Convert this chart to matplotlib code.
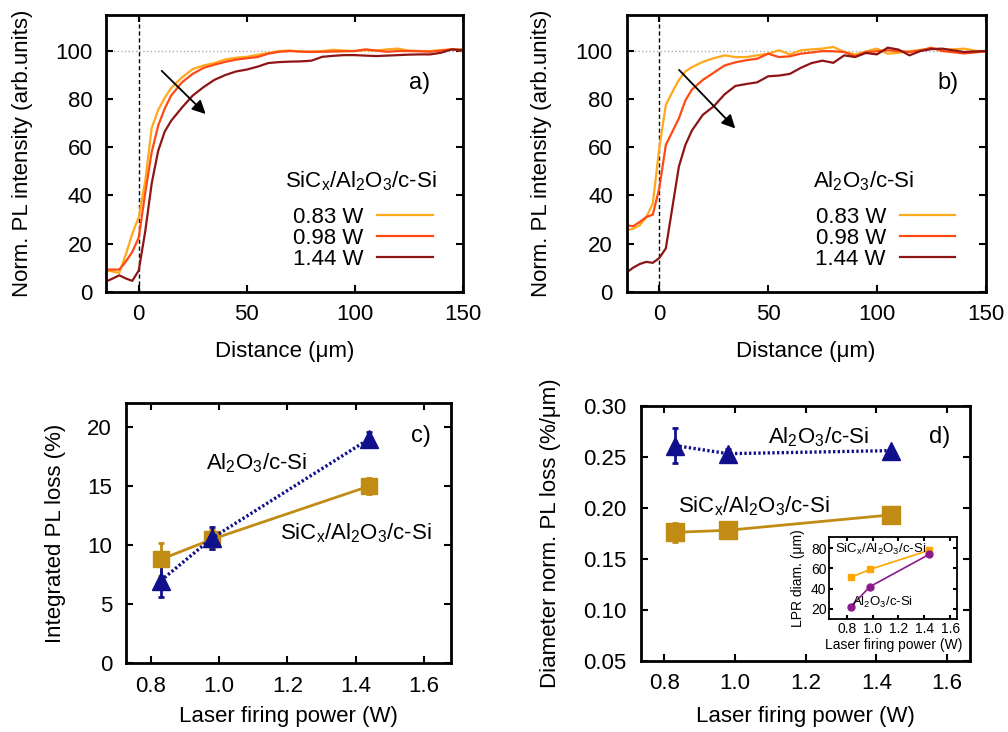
import matplotlib.pyplot as plt
import numpy as np

plt.rcParams['font.family'] = ['Liberation Sans', 'DejaVu Sans']
plt.rcParams['mathtext.default'] = 'regular'

# Datos perfiles PL (a, b)
distancia = [-15, -12, -9, -6, -3, 0, 3, 6, 9, 12, 15, 20, 25, 30, 35, 40, 45, 50, 55, 60,
             65, 70, 75, 80, 85, 90, 95, 100, 105, 110, 115, 120, 125, 130, 135, 140, 145, 150]
a_083 = [8.8, 8.4, 7.8, 15.4, 24, 31, 46, 68, 75.5, 80.5, 84.6, 89, 92.5, 94, 95, 96.5, 97.2, 97.6, 98.4, 99.2,
         100, 100.2, 99.7, 99.8, 100, 100.5, 100.2, 100, 100.4, 100.2, 100.7, 101, 100.2, 100, 100, 100.4, 100.7, 100.7]
a_098 = [9.2, 9.2, 9.2, 12.5, 16.5, 22.5, 41, 58, 69, 76, 81.5, 87, 90.5, 93, 94.3, 95.5, 96.4, 97, 97.5, 98.9,
         99.7, 100, 99.8, 99.6, 99.7, 99.8, 99.9, 100, 100.7, 100.2, 99.7, 100, 100, 99.9, 99.7, 100.2, 100.7, 100]
a_144 = [4.3, 5.5, 6.8, 5.5, 4.5, 8.8, 25, 45, 58.5, 66.5, 71, 76.5, 81.5, 85, 88, 90, 91.5, 92.3, 93.5, 95,
         95.4, 95.6, 95.7, 96, 97.6, 98, 98.3, 98.3, 98.1, 97.9, 98.1, 98.3, 98.5, 98.6, 98.6, 99.3, 100.7, 100.4]
b_083 = [25.5, 26.2, 27.6, 31, 36.6, 59.7, 77.6, 83, 88, 91.5, 93.3, 95.5, 97, 98.2, 97.5, 97.5, 98.2, 98.9, 100.3, 98.6,
         100.3, 100.7, 101, 101.7, 99.6, 98.6, 99.8, 101, 98.9, 99.3, 99.9, 100.5, 101, 100.6, 100.7, 101, 100.2, 99.6]
b_098 = [27.6, 27.2, 29, 31, 32, 43, 61, 66.5, 72, 79.5, 84, 88, 91, 94, 95.3, 96.2, 96.8, 98.9, 97.5, 97.8,
         98.9, 99.4, 100, 99.9, 99.6, 97.8, 99.6, 99.9, 100.3, 100, 99.6, 100.2, 101.4, 100, 99.5, 99, 99.4, 99.9]
b_144 = [8, 10, 11.5, 12.4, 12, 14, 18, 35, 52, 61, 67, 73.5, 77, 82, 85.5, 86.3, 87, 89.5, 89.8, 90.5,
         93, 95, 96, 95.1, 98.2, 97.5, 99.2, 98.6, 101.4, 100.6, 98.2, 100, 100.8, 101, 100.3, 99.6, 99.8, 100]
potencias = ['0.83 W', '0.98 W', '1.44 W']
colores_curvas = ['#ffa81c', '#ff4a14', '#8e1515']

# Datos c, d e inset
potencia = [0.83, 0.98, 1.44]
perdida_sic = [8.8, 10.5, 15.0]
err_perdida_sic = [1.4, 0.8, 0.7]
perdida_al = [7.0, 10.6, 19.0]
err_perdida_al = [1.4, 0.9, 0.6]
norm_al = [0.261, 0.253, 0.256]
err_norm_al = [0.017, 0.005, 0.0]
norm_sic = [0.176, 0.178, 0.193]
err_norm_sic = [0.009, 0.0, 0.0]
diam_sic = [51, 59, 78]
diam_al = [22, 42, 74]

fs = 16
c_sic = '#c08c14'
c_al = '#10108c'

fig = plt.figure(figsize=(10.08, 7.32), dpi=100)
ax_a = fig.add_axes([0.1055, 0.6015, 0.3535, 0.3781])
ax_b = fig.add_axes([0.6217, 0.6015, 0.3561, 0.3781])
ax_c = fig.add_axes([0.1250, 0.0938, 0.3224, 0.3552])
ax_d = fig.add_axes([0.6356, 0.0970, 0.3268, 0.3488])
ax_i = fig.add_axes([0.8227, 0.1544, 0.1270, 0.1120])


def estilo(ax, size=fs, lw=2.0):
    ax.tick_params(direction='in', top=True, right=True, labelsize=size, length=5, width=1.5)
    ax.tick_params(axis='x', pad=9)
    ax.tick_params(axis='y', pad=10)
    for s in ax.spines.values():
        s.set_linewidth(lw)


# Paneles a y b
for ax, datos, titulo, letra, flecha, xt, xl in [
        (ax_a, [a_083, a_098, a_144], 'SiC$_x$/Al$_2$O$_3$/c-Si', 'a)', ((9.7, 92.6), (31.9, 73)), 0.501, 0.88),
        (ax_b, [b_083, b_098, b_144], 'Al$_2$O$_3$/c-Si', 'b)', ((8.2, 93), (35.8, 67)), 0.518, 0.894)]:
    lineas = []
    for y, col, lab in zip(datos, colores_curvas, potencias):
        ln, = ax.plot(distancia, y, color=col, linewidth=1.6, label=lab)
        lineas.append(ln)
    ax.axhline(100, color='#aaaaaa', linestyle=':', linewidth=1.0, zorder=0)
    ax.axvline(0, color='black', linestyle='--', linewidth=1.0, dashes=(3, 2), zorder=0)
    ax.annotate('', xy=flecha[1], xytext=flecha[0],
                arrowprops=dict(arrowstyle='-|>', color='black', lw=1.3, mutation_scale=20))
    ax.text(xl, 0.755, letra, transform=ax.transAxes, fontsize=17, ha='center', va='center')
    ax.text(xt, 0.3975, titulo, transform=ax.transAxes, fontsize=fs, ha='left', va='center')
    ax.set_xlim(-15, 150)
    ax.set_ylim(0, 115)
    ax.set_xticks([0, 50, 100, 150])
    ax.set_yticks([0, 20, 40, 60, 80, 100])
    ax.set_xlabel('Distance (μm)', fontsize=fs)
    ax.set_ylabel('Norm. PL intensity (arb.units)', fontsize=fs)
    ax.legend(handles=lineas, loc='lower right', bbox_to_anchor=(0.916, 0.079),
              frameon=False, markerfirst=False, fontsize=fs,
              handlelength=2.5, handletextpad=0.63, labelspacing=0.0,
              borderaxespad=0, borderpad=0)
    estilo(ax)
    ax.yaxis.set_label_coords(-0.207, 0.5)
    ax.xaxis.set_label_coords(0.5, -0.178)

# Panel c
ax_c.errorbar(potencia, perdida_sic, yerr=err_perdida_sic, color=c_sic, marker='s', markersize=11,
              linewidth=2.0, elinewidth=2.0, capsize=2.5, capthick=2.0)
ax_c.errorbar(potencia, perdida_al, yerr=err_perdida_al, color=c_al, marker='^', markersize=13,
              linestyle=(0, (0.7, 0.7)), linewidth=2.4, elinewidth=2.0, capsize=2.5, capthick=2.0)
ax_c.text(1.11, 16.95, 'Al$_2$O$_3$/c-Si', fontsize=fs, ha='center', va='center')
ax_c.text(1.40, 11.0, 'SiC$_x$/Al$_2$O$_3$/c-Si', fontsize=fs, ha='center', va='center')
ax_c.text(1.59, 19.2, 'c)', fontsize=17, ha='center', va='center')
ax_c.set_xlim(0.728, 1.679)
ax_c.set_ylim(0, 22)
ax_c.set_xticks([0.8, 1.0, 1.2, 1.4, 1.6])
ax_c.set_yticks([0, 5, 10, 15, 20])
ax_c.xaxis.set_major_formatter(plt.FormatStrFormatter('%.1f'))
ax_c.set_xlabel('Laser firing power (W)', fontsize=fs)
ax_c.set_ylabel('Integrated PL loss (%)', fontsize=fs)
estilo(ax_c)
ax_c.yaxis.set_label_coords(-0.185, 0.5)
ax_c.xaxis.set_label_coords(0.5, -0.164)

# Panel d
ax_d.errorbar(potencia, norm_sic, yerr=err_norm_sic, color=c_sic, marker='s', markersize=13,
              linewidth=2.0, elinewidth=2.0, capsize=2.5, capthick=2.0)
ax_d.errorbar(potencia, norm_al, yerr=err_norm_al, color=c_al, marker='^', markersize=13,
              linestyle=(0, (0.7, 0.7)), linewidth=2.4, elinewidth=2.0, capsize=2.5, capthick=2.0)
ax_d.text(1.235, 0.269, 'Al$_2$O$_3$/c-Si', fontsize=fs, ha='center', va='center')
ax_d.text(1.053, 0.2014, 'SiC$_x$/Al$_2$O$_3$/c-Si', fontsize=fs, ha='center', va='center')
ax_d.text(1.58, 0.269, 'd)', fontsize=17, ha='center', va='center')
ax_d.set_xlim(0.733, 1.665)
ax_d.set_ylim(0.05, 0.30)
ax_d.set_xticks([0.8, 1.0, 1.2, 1.4, 1.6])
ax_d.set_yticks([0.05, 0.10, 0.15, 0.20, 0.25, 0.30])
ax_d.xaxis.set_major_formatter(plt.FormatStrFormatter('%.1f'))
ax_d.yaxis.set_major_formatter(plt.FormatStrFormatter('%.2f'))
ax_d.set_xlabel('Laser firing power (W)', fontsize=fs)
ax_d.set_ylabel('Diameter norm. PL loss (%/μm)', fontsize=fs)
estilo(ax_d)
ax_d.yaxis.set_label_coords(-0.242, 0.5)
ax_d.xaxis.set_label_coords(0.5, -0.176)

# Inset
ax_i.plot(potencia, diam_sic, color='#ffa500', marker='s', markersize=5, linewidth=1.2)
ax_i.plot(potencia, diam_al, color='#8c1a8c', marker='o', markersize=5, linewidth=1.2)
ax_i.text(0.71, 78.3, 'SiC$_x$/Al$_2$O$_3$/c-Si', fontsize=9.5, ha='left', va='center')
ax_i.text(1.08, 26.2, 'Al$_2$O$_3$/c-Si', fontsize=9.5, ha='center', va='center')
ax_i.set_xlim(0.665, 1.655)
ax_i.set_ylim(10, 91)
ax_i.set_xticks([0.8, 1.0, 1.2, 1.4, 1.6])
ax_i.set_yticks([20, 40, 60, 80])
ax_i.xaxis.set_major_formatter(plt.FormatStrFormatter('%.1f'))
ax_i.set_xlabel('Laser firing power (W)', fontsize=10)
ax_i.set_ylabel('LPR diam. (μm)', fontsize=10)
estilo(ax_i, size=10, lw=1.3)
ax_i.tick_params(length=3, pad=2)
ax_i.yaxis.set_label_coords(-0.1875, 0.5)
ax_i.xaxis.set_label_coords(0.5, -0.23)

fig.savefig('out.png', dpi=100)
